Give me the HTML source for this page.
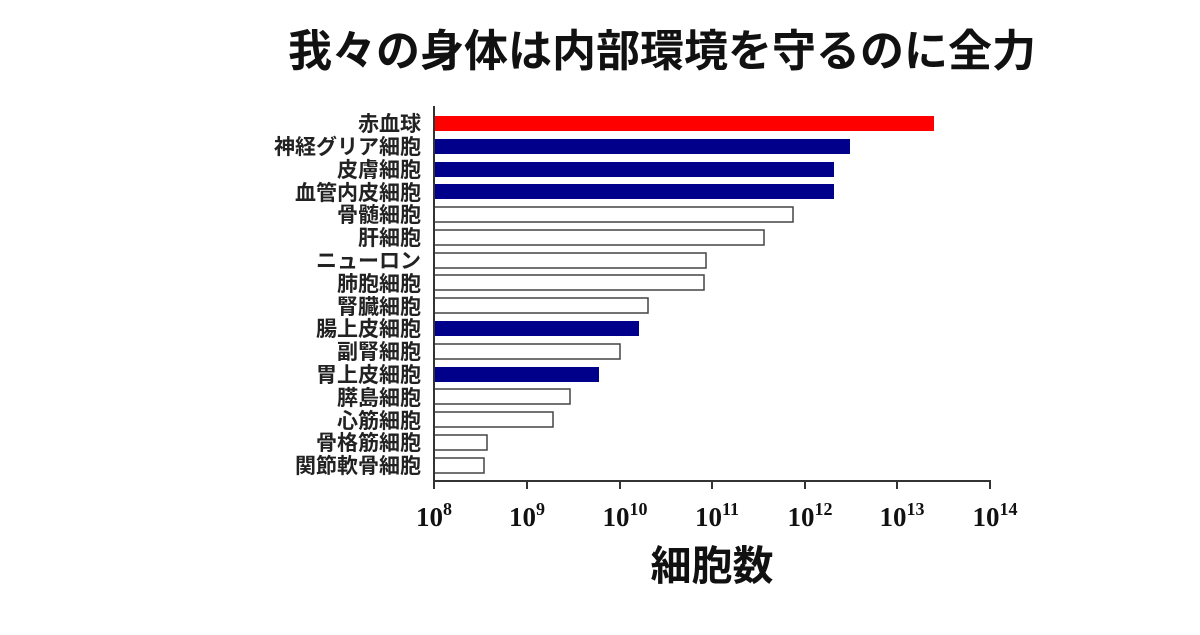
<!DOCTYPE html><html><head><meta charset="utf-8"><style>
body{margin:0;background:#fff;width:1200px;height:630px;overflow:hidden}
</style></head><body>
<svg width="1200" height="630" xmlns="http://www.w3.org/2000/svg">
<text x="662" y="66" text-anchor="middle" font-family="Liberation Sans,Noto Sans CJK JP,sans-serif" font-weight="bold" font-size="44" fill="#111">我々の身体は内部環境を守るのに全力</text>
<g font-family="Liberation Sans,Noto Sans CJK JP,sans-serif" font-weight="bold" font-size="21" fill="#222" text-anchor="end">
<text x="421" y="131">赤血球</text><text x="421" y="154">神経グリア細胞</text><text x="421" y="177">皮膚細胞</text><text x="421" y="200">血管内皮細胞</text><text x="421" y="222">骨髄細胞</text><text x="421" y="245">肝細胞</text><text x="421" y="268">ニューロン</text><text x="421" y="291">肺胞細胞</text><text x="421" y="314">腎臓細胞</text><text x="421" y="336">腸上皮細胞</text><text x="421" y="359">副腎細胞</text><text x="421" y="382">胃上皮細胞</text><text x="421" y="405">膵島細胞</text><text x="421" y="428">心筋細胞</text><text x="421" y="450">骨格筋細胞</text><text x="421" y="473">関節軟骨細胞</text>
</g>
<g stroke="#444" stroke-width="1.5">
<rect x="434" y="116" width="500" height="15" fill="#f00" stroke="none"/>
<rect x="434" y="139" width="416" height="15" fill="#00008b" stroke="none"/>
<rect x="434" y="162" width="400" height="15" fill="#00008b" stroke="none"/>
<rect x="434" y="184" width="400" height="15" fill="#00008b" stroke="none"/>
<rect x="434" y="207" width="359" height="15" fill="#fff"/>
<rect x="434" y="230" width="330" height="15" fill="#fff"/>
<rect x="434" y="253" width="272" height="15" fill="#fff"/>
<rect x="434" y="275" width="270" height="15" fill="#fff"/>
<rect x="434" y="298" width="214" height="15" fill="#fff"/>
<rect x="434" y="321" width="205" height="15" fill="#00008b" stroke="none"/>
<rect x="434" y="344" width="186" height="15" fill="#fff"/>
<rect x="434" y="367" width="165" height="15" fill="#00008b" stroke="none"/>
<rect x="434" y="389" width="136" height="15" fill="#fff"/>
<rect x="434" y="412" width="119" height="15" fill="#fff"/>
<rect x="434" y="435" width="53" height="15" fill="#fff"/>
<rect x="434" y="458" width="50" height="15" fill="#fff"/>
</g>
<g stroke="#333" stroke-width="2">
<line x1="434" y1="106" x2="434" y2="481"/>
<line x1="433" y1="481" x2="991" y2="481"/>
<line x1="434" y1="481" x2="434" y2="489"/><line x1="527" y1="481" x2="527" y2="489"/><line x1="620" y1="481" x2="620" y2="489"/><line x1="712" y1="481" x2="712" y2="489"/><line x1="805" y1="481" x2="805" y2="489"/><line x1="897" y1="481" x2="897" y2="489"/><line x1="990" y1="481" x2="990" y2="489"/>
</g>
<g font-family="Liberation Serif,serif" font-weight="bold" font-size="27" fill="#111" text-anchor="middle">
<text x="434" y="526">10<tspan font-size="18" dy="-11">8</tspan></text>
<text x="527" y="526">10<tspan font-size="18" dy="-11">9</tspan></text>
<text x="625" y="526">10<tspan font-size="18" dy="-11">10</tspan></text>
<text x="717" y="526">10<tspan font-size="18" dy="-11">11</tspan></text>
<text x="810" y="526">10<tspan font-size="18" dy="-11">12</tspan></text>
<text x="902" y="526">10<tspan font-size="18" dy="-11">13</tspan></text>
<text x="995" y="526">10<tspan font-size="18" dy="-11">14</tspan></text>
</g>
<text x="712" y="580" text-anchor="middle" font-family="Liberation Sans,Noto Sans CJK JP,sans-serif" font-weight="bold" font-size="41" fill="#111">細胞数</text>
</svg>
</body></html>
